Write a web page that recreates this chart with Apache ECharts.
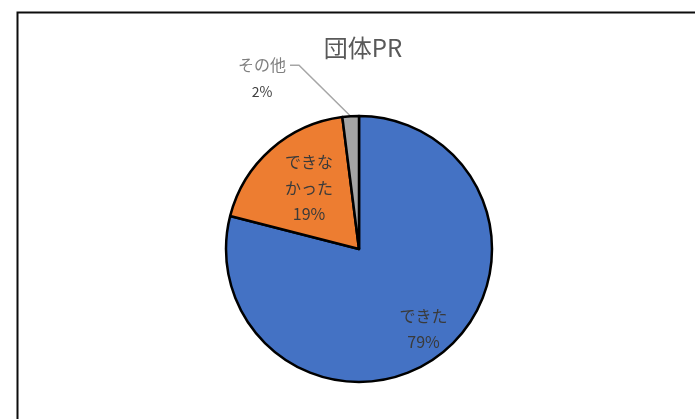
<!DOCTYPE html>
<html>
<head>
<meta charset="utf-8">
<script src="https://cdn.jsdelivr.net/npm/echarts@6/dist/echarts.min.js"></script>
<style>
	html, body { margin: 0; padding: 0; background: #fff; }
	#main { width: 695px; height: 419px; }
</style>
</head>
<body>
<div id="main"></div>
<script>
// 団体PR の回答割合
var categories = ['できた', 'できな\nかった', 'その他'];
var values = [79, 19, 2];
var colors = ['#4472C4', '#ED7D31', '#A5A5A5'];

// ラベル位置の微調整 (デフォルト位置からのずれ)
var labelShift = [[22, 25], [-4, -9], [-45, -41]];
var leaderGap = 9;

var font = '"Noto Sans CJK JP", "Noto Sans", sans-serif';

var myChart = echarts.init(document.getElementById('main'));

var data = [];
for (var i = 0; i < values.length; i++) {
	var item = {
		name: categories[i],
		value: values[i],
		itemStyle: { color: colors[i] }
	};
	if (i < 2) {
		item.label = { position: 'inside' };
		item.labelLine = { show: false };
	} else {
		item.label = {
			position: 'outside',
			formatter: '{n|{b}}\n{p|{d}%}',
			padding: [26, 4, 0, 0]
		};
		item.labelLine = {
			show: true,
			length: 10,
			length2: 10,
			lineStyle: { color: '#A6A6A6', width: 1.5 }
		};
	}
	data.push(item);
}

var option = {
	animation: false,
	title: {
		text: '団体PR',
		left: 358,
		top: 31,
		textAlign: 'center',
		textStyle: {
			fontFamily: font,
			fontSize: 24,
			fontWeight: 'normal',
			color: '#595959'
		}
	},
	graphic: [{
		type: 'rect',
		left: 15,
		top: 10,
		shape: { width: 720, height: 440 },
		style: { fill: 'none', stroke: '#0d0d0d', lineWidth: 2 },
		silent: true
	}],
	series: [{
		type: 'pie',
		center: [359, 249],
		radius: [0, 133],
		startAngle: 90,
		clockwise: true,
		avoidLabelOverlap: false,
		itemStyle: { borderColor: '#000', borderWidth: 2.5 },
		label: {
			fontFamily: font,
			fontSize: 16,
			color: '#3a3a3a',
			lineHeight: 26,
			align: 'center',
			formatter: '{b}\n{d}%',
			rich: {
				n: { fontFamily: font, fontSize: 16, color: '#7F7F7F', lineHeight: 26, align: 'center' },
				p: { fontFamily: font, fontSize: 14, color: '#404040', lineHeight: 26, align: 'center' }
			}
		},
		labelLayout: function (params) {
			var s = labelShift[params.dataIndex];
			var res = { dx: s[0], dy: s[1] };
			var pts = params.labelLinePoints;
			if (pts && pts.length) {
				// 引き出し線: 扇形の縁から移動後のラベル右中央へ
				var r = params.labelRect;
				var endX = r.x + r.width + s[0];
				var endY = r.y + r.height / 2 + s[1];
				res.labelLinePoints = [pts[0], [endX + leaderGap, endY], [endX, endY]];
			}
			return res;
		},
		data: data
	}]
};

myChart.setOption(option);
window.onresize = myChart.resize;
</script>
</body>
</html>
